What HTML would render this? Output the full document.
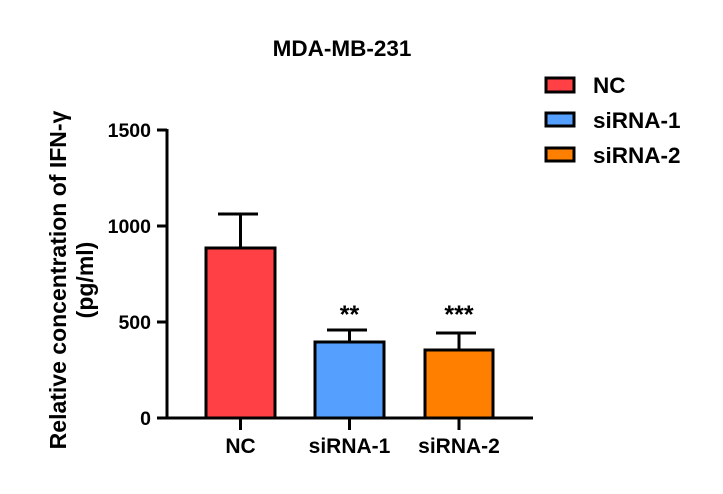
<!DOCTYPE html>
<html><head><meta charset="utf-8"><style>
html,body{margin:0;padding:0;background:#fff;}
svg text{font-family:"Liberation Sans",Arial,sans-serif;font-weight:bold;fill:#000;}
</style></head><body>
<svg width="723" height="489" viewBox="0 0 723 489" xmlns="http://www.w3.org/2000/svg">
<text x="342" y="56" font-size="22.5" text-anchor="middle">MDA-MB-231</text>
<g stroke="#000" stroke-width="3" fill="none">
<line x1="167" y1="129" x2="167" y2="419.5"/>
<line x1="165.5" y1="418" x2="533" y2="418"/>
<line x1="157" y1="130" x2="167" y2="130"/>
<line x1="157" y1="226" x2="167" y2="226"/>
<line x1="157" y1="322" x2="167" y2="322"/>
<line x1="157" y1="418" x2="167" y2="418"/>
<line x1="240.5" y1="418" x2="240.5" y2="430"/>
<line x1="349.5" y1="418" x2="349.5" y2="430"/>
<line x1="459" y1="418" x2="459" y2="430"/>
<line x1="240.5" y1="248" x2="240.5" y2="214"/><line x1="218" y1="214" x2="258" y2="214"/>
<line x1="349.5" y1="342" x2="349.5" y2="330"/><line x1="327" y1="330" x2="367" y2="330"/>
<line x1="459" y1="350" x2="459" y2="333"/><line x1="436" y1="333" x2="476" y2="333"/>
</g>
<rect x="206" y="248" width="69" height="170" fill="#ff4045" stroke="#000" stroke-width="3"/>
<rect x="315" y="342" width="69" height="76" fill="#55a0ff" stroke="#000" stroke-width="3"/>
<rect x="425" y="350" width="68" height="68" fill="#ff8000" stroke="#000" stroke-width="3"/>
<text x="349.5" y="323" font-size="25" text-anchor="middle">**</text>
<text x="459" y="323" font-size="25" text-anchor="middle">***</text>
<g font-size="19.5" text-anchor="end">
<text x="151" y="137">1500</text>
<text x="151" y="233">1000</text>
<text x="151" y="329">500</text>
<text x="151" y="425">0</text>
</g>
<g font-size="21" text-anchor="middle">
<text x="240.5" y="453">NC</text>
<text x="349.5" y="453">siRNA-1</text>
<text x="459" y="453">siRNA-2</text>
</g>
<g font-size="23" text-anchor="middle">
<text transform="translate(66,280) rotate(-90)">Relative concentration of IFN-γ</text>
<text transform="translate(93,280) rotate(-90)">(pg/ml)</text>
</g>
<rect x="546" y="78" width="28" height="14" fill="#ff4045" stroke="#000" stroke-width="3"/>
<rect x="546" y="113" width="28" height="13" fill="#55a0ff" stroke="#000" stroke-width="3"/>
<rect x="546" y="148" width="28" height="13" fill="#ff8000" stroke="#000" stroke-width="3"/>
<g font-size="22.5">
<text x="593" y="93">NC</text>
<text x="593" y="128">siRNA-1</text>
<text x="593" y="163">siRNA-2</text>
</g>
</svg>
</body></html>
